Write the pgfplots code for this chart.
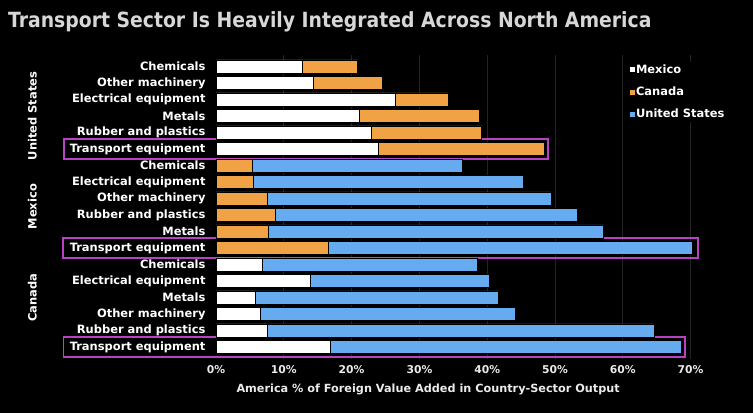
\documentclass[border=0pt]{standalone}
\usepackage{pgfplots}
\pgfplotsset{compat=1.18}
\usepackage{fontspec}
\setmainfont{DejaVu Sans}
\newfontfamily\titlefont{DejaVu Sans Condensed}
\definecolor{mxw}{RGB}{255,255,255}
\definecolor{cao}{RGB}{240,162,68}
\definecolor{usb}{RGB}{102,170,240}
\definecolor{mag}{RGB}{185,65,195}
\definecolor{gridc}{RGB}{36,36,36}
\definecolor{titc}{RGB}{215,215,215}
\begin{document}
\begin{tikzpicture}
\fill[black] (0bp,0bp) rectangle (753bp,413bp);
\begin{axis}[
  at={(216bp,54.5bp)}, anchor=south west,
  scale only axis, width=508.5bp, height=303.6bp,
  xmin=0, xmax=75, ymin=-0.7, ymax=17.7, y dir=reverse,
  xbar stacked, bar width=13bp,
  clip=false,
  axis line style={draw=none},
  tick style={draw=none},
  xmajorgrids, grid style={color=gridc, line width=0.7bp},
  xtick={10,20,30,40,50,60,70},
  extra x ticks={0}, extra x tick style={grid=none},
  xticklabels={10\%,20\%,30\%,40\%,50\%,60\%,70\%},
  extra x tick labels={0\%},
  xticklabel style={font=\bfseries\fontsize{10.8}{12}\selectfont, text=white!92!black, yshift=-3bp},
  ytick={0,...,17},
  yticklabels={Chemicals,Other machinery,Electrical equipment,Metals,Rubber and plastics,Transport equipment,
               Chemicals,Electrical equipment,Other machinery,Rubber and plastics,Metals,Transport equipment,
               Chemicals,Electrical equipment,Metals,Other machinery,Rubber and plastics,Transport equipment},
  yticklabel style={font=\bfseries\fontsize{11.5}{13}\selectfont, text=white, xshift=-7bp},
  xlabel={America \% of Foreign Value Added in Country-Sector Output},
  xlabel style={at={(axis description cs:0,0)}, anchor=base west, xshift=17bp, yshift=-33.5bp,
                font=\bfseries\fontsize{11.3}{12}\selectfont, text=white!92!black},
  legend style={at={(axis description cs:0.808,0.978)}, anchor=north west, draw=none, fill=black,
                text=white, font=\bfseries\fontsize{11.5}{13}\selectfont, row sep=10bp,
                nodes={inner sep=1bp}, legend cell align=left},
  legend image code/.code={\fill[#1,draw=none] (0bp,-2.5bp) rectangle (5bp,2.5bp);},
]
\addplot+[fill=mxw, draw=black, line width=0.7bp] coordinates {
 (12.8,0) (14.3,1) (26.5,2) (21.1,3) (22.9,4) (24.0,5)
 (0,6) (0,7) (0,8) (0,9) (0,10) (0,11)
 (6.8,12) (13.9,13) (5.8,14) (6.5,15) (7.5,16) (16.8,17)};
\addplot+[fill=cao, draw=black, line width=0.7bp] coordinates {
 (8.1,0) (10.3,1) (7.7,2) (17.7,3) (16.3,4) (24.5,5)
 (5.4,6) (5.5,7) (7.5,8) (8.7,9) (7.7,10) (16.5,11)
 (0,12) (0,13) (0,14) (0,15) (0,16) (0,17)};
\addplot+[fill=usb, draw=black, line width=0.7bp] coordinates {
 (0,0) (0,1) (0,2) (0,3) (0,4) (0,5)
 (31.0,6) (39.8,7) (41.9,8) (44.6,9) (49.5,10) (53.7,11)
 (31.8,12) (26.4,13) (35.9,14) (37.6,15) (57.1,16) (51.8,17)};
\legend{Mexico,Canada,United States}
\draw[mag, line width=1.8bp] (axis cs:-22.4,4.42) rectangle (axis cs:49.0,5.6);
\draw[mag, line width=1.8bp] (axis cs:-22.6,10.42) rectangle (axis cs:71.1,11.6);
\draw[mag, line width=1.8bp] (axis cs:-22.5,16.42) rectangle (axis cs:69.2,17.6);
\node[rotate=90, font=\bfseries\fontsize{11.5}{13}\selectfont, text=white] at (axis cs:-27.1,3) {United States};
\node[rotate=90, font=\bfseries\fontsize{11.5}{13}\selectfont, text=white] at (axis cs:-27.1,8.5) {Mexico};
\node[rotate=90, font=\bfseries\fontsize{11.5}{13}\selectfont, text=white] at (axis cs:-27.1,14) {Canada};
\end{axis}
\node[anchor=base west, inner sep=0pt, font=\titlefont\bfseries\fontsize{21}{24}\selectfont, text=titc] at (8bp,385bp) {Transport Sector Is Heavily Integrated Across North America};
\end{tikzpicture}
\end{document}
